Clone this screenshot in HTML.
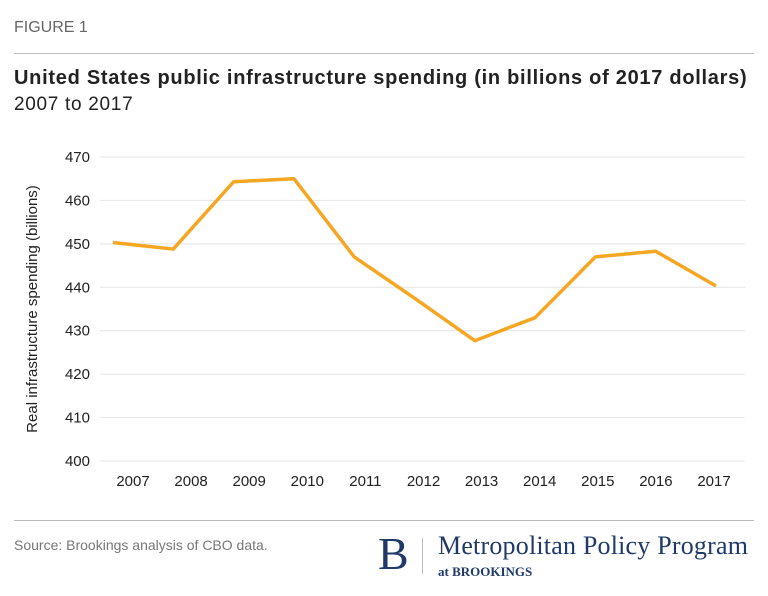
<!DOCTYPE html>
<html><head><meta charset="utf-8"><style>
body{margin:0;width:768px;height:596px;background:#fff;font-family:"Liberation Sans",sans-serif;position:relative;overflow:hidden}
.abs{position:absolute}
</style></head><body>
<div class="abs" style="left:14px;top:19px;font-size:16px;color:#666">FIGURE 1</div>
<div class="abs" style="left:14px;top:53px;width:740px;height:1px;background:#bbb"></div>
<div class="abs" style="left:14px;top:67px;font-size:20px;letter-spacing:0.72px;font-weight:bold;color:#222;white-space:nowrap">United States public infrastructure spending (in billions of 2017 dollars)</div>
<div class="abs" style="left:14px;top:94px;font-size:19px;letter-spacing:0.7px;color:#222">2007 to 2017</div>
<svg class="abs" style="left:0;top:0" width="768" height="596" id="chart"></svg>
<div class="abs" style="left:14px;top:520px;width:740px;height:1px;background:#bbb"></div>
<div class="abs" style="left:14px;top:537px;font-size:14px;color:#777">Source: Brookings analysis of CBO data.</div>
<div class="abs" style="left:378px;top:531px;font-family:'Liberation Serif',serif;font-size:46px;color:#1f3a68;line-height:46px">B</div>
<div class="abs" style="left:422px;top:538px;width:1px;height:36px;background:#bbb"></div>
<div class="abs" style="left:438px;top:532px;font-family:'Liberation Serif',serif;font-size:26px;letter-spacing:0.2px;color:#1f3a68;line-height:28px;white-space:nowrap">Metropolitan Policy Program</div>
<div class="abs" style="left:438px;top:564px;font-family:'Liberation Serif',serif;font-size:13px;font-weight:bold;color:#1f3a68">at BROOKINGS</div>
<script>
const years=["2007","2008","2009","2010","2011","2012","2013","2014","2015","2016","2017"];
const values=[450.3,448.8,464.3,465,447,437.5,427.7,433,447,448.3,440.3];
const yTicks=[400,410,420,430,440,450,460,470];
const svg=document.getElementById('chart');
const NS='http://www.w3.org/2000/svg';
const y=v=>461-(v-400)*(461-157)/70;
const xp=i=>113+i*60.3;
const xl=i=>133+i*58.1;
function mk(t,a){const e=document.createElementNS(NS,t);for(const k in a)e.setAttribute(k,a[k]);svg.appendChild(e);return e;}
yTicks.forEach(v=>{
 const g=mk('line',{x1:100,x2:745,y1:y(v),y2:y(v),stroke:'#e4e4e4','stroke-width':1});
 
 
 const t=mk('text',{x:90,y:y(v)+5,'text-anchor':'end','font-size':15,fill:'#222','font-family':'Liberation Sans, sans-serif'});
 t.textContent=v;
 
 
});
years.forEach((yr,i)=>{
 const t=mk('text',{x:xl(i),y:486,'text-anchor':'middle','font-size':15,fill:'#222','font-family':'Liberation Sans, sans-serif'});
 t.textContent=yr;
 
 
});
const yt=mk('text',{transform:'translate(37,309) rotate(-90)','text-anchor':'middle','font-size':15,fill:'#222','font-family':'Liberation Sans, sans-serif'});
yt.textContent='Real infrastructure spending (billions)';


const pl=mk('polyline',{points:values.map((v,i)=>xp(i)+','+y(v)).join(' '),fill:'none',stroke:'#f5a623','stroke-width':3.5,'stroke-linejoin':'round'});


</script>
</body></html>
